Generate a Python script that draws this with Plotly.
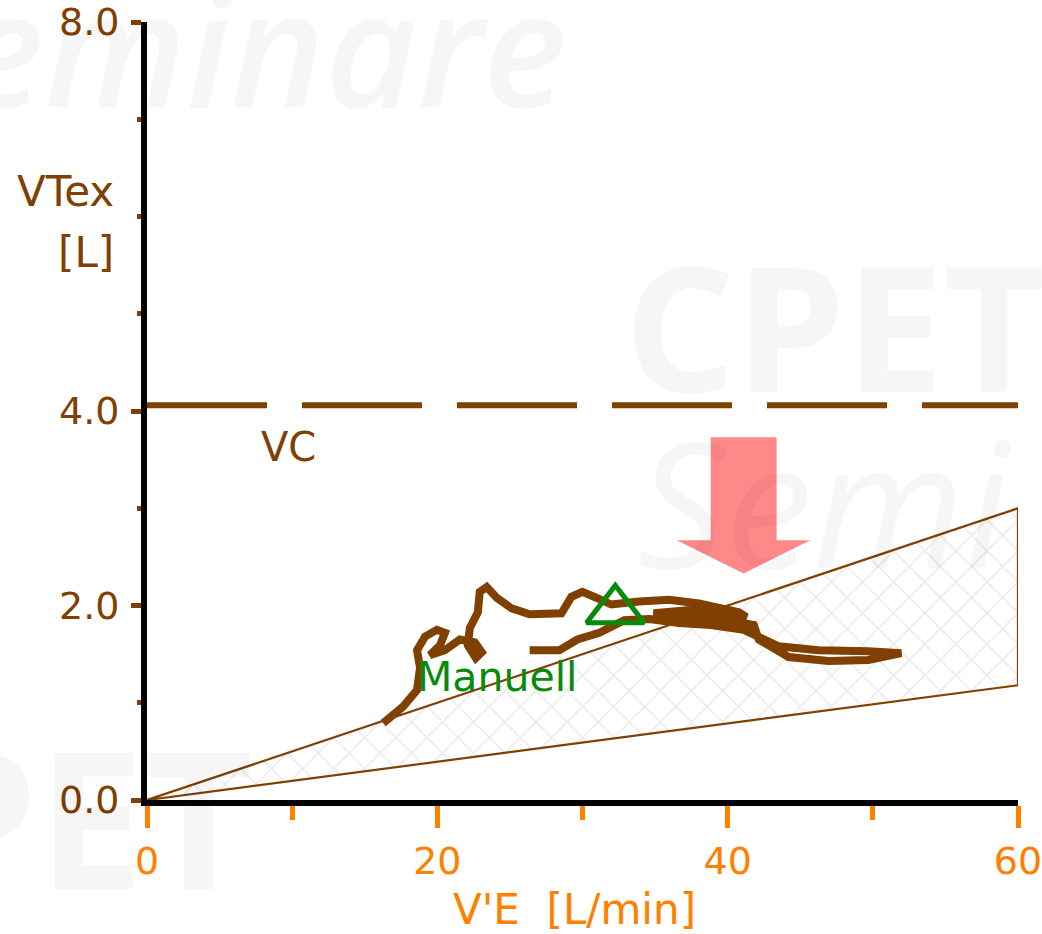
import plotly.graph_objects as go

# ---------------- data ----------------
ve_trace = [16.27, 17.64, 18.60, 18.81, 18.60, 19.15, 19.97, 20.52, 20.18, 19.49,
            20.52, 21.55, 22.58, 23.06, 22.65, 22.10, 22.24, 22.79, 22.92, 23.40,
            24.09, 25.12, 26.36, 28.55, 29.24, 29.99, 30.95, 31.98, 33.90, 35.96,
            38.02, 40.77, 41.30, 39.50, 37.20, 34.90, 36.80, 39.60, 41.80,
            42.14, 44.20, 46.95, 49.69, 51.96, 49.69, 46.26, 43.51,
            41.11, 38.85, 36.65, 34.59, 32.88, 31.16, 29.65, 28.41, 26.36]
vt_trace = [0.79, 0.96, 1.13, 1.36, 1.54, 1.68, 1.75, 1.72, 1.59, 1.49,
            1.54, 1.65, 1.62, 1.52, 1.46, 1.59, 1.77, 1.93, 2.14, 2.19,
            2.08, 1.97, 1.91, 1.92, 2.09, 2.14, 2.08, 2.01, 2.04, 2.06,
            2.02, 1.93, 1.88, 1.92, 1.95, 1.92, 1.87, 1.86, 1.80,
            1.65, 1.47, 1.43, 1.44, 1.51, 1.53, 1.54, 1.58,
            1.75, 1.80, 1.82, 1.86, 1.85, 1.72, 1.65, 1.54, 1.54]

vc_value = 4.06                      # vital capacity line [L]
band_ve = [0, 60, 60, 0]             # breathing-frequency band (VT = VE/BF)
band_vt = [0, 3.0, 1.18, 0]

marker_ve = [32.26]
marker_vt = [1.95]
marker_label = "Manuell"
label_ve = 24.1
label_vt = 1.26

x_ticks = [0, 20, 40, 60]
x_ticklabels = ["0", "20", "40", "60"]
x_minor = [10, 30, 50]
y_ticks = [0, 2, 4, 8]
y_ticklabels = ["0.0", "2.0", "4.0", "8.0"]
y_minor = [1, 3, 5, 6, 7]

# arrow annotation geometry (data units)
arrow_tip = (41.1, 2.33)
arrow_shaft_half = 2.27
arrow_head_half = 4.6
arrow_head_base = 2.67
arrow_top = 3.73

BROWN = "#7f4000"
ORANGE = "#ff8000"
GREEN = "#0a8a0a"
FONT = "DejaVu Sans"

fig = go.Figure()

# hatched band
fig.add_trace(go.Scatter(
    x=band_ve, y=band_vt, mode="lines", fill="toself",
    line=dict(color=BROWN, width=2.2),
    fillcolor="rgba(255,255,255,0)",
    fillpattern=dict(shape="x", size=22, fgcolor="#d6d9d6", bgcolor="white", solidity=0.15),
    hoverinfo="skip", showlegend=False))

# VC dashed line
fig.add_trace(go.Scatter(
    x=[0, 60.5], y=[vc_value, vc_value], mode="lines",
    line=dict(color=BROWN, width=6, dash="120px,35px"),
    hoverinfo="skip", showlegend=False))

# breathing trace
fig.add_trace(go.Scatter(
    x=ve_trace, y=vt_trace, mode="lines",
    line=dict(color=BROWN, width=8),
    hoverinfo="skip", showlegend=False))

# marker
fig.add_trace(go.Scatter(
    x=marker_ve, y=marker_vt, mode="markers",
    marker=dict(symbol="triangle-up-open", size=50, color=GREEN, line=dict(width=5, color=GREEN)),
    hoverinfo="skip", showlegend=False))

# arrow
tx, ty = arrow_tip
ax_ = [tx - arrow_shaft_half, tx + arrow_shaft_half, tx + arrow_shaft_half, tx + arrow_head_half,
       tx, tx - arrow_head_half, tx - arrow_shaft_half, tx - arrow_shaft_half]
ay_ = [arrow_top, arrow_top, arrow_head_base, arrow_head_base, ty, arrow_head_base,
       arrow_head_base, arrow_top]
fig.add_trace(go.Scatter(
    x=ax_, y=ay_, mode="lines", fill="toself", fillcolor="rgba(255,110,110,0.82)",
    line=dict(width=0, color="rgba(0,0,0,0)"), hoverinfo="skip", showlegend=False))

annotations = [
    dict(x=label_ve, y=label_vt, xref="x", yref="y", text=marker_label, showarrow=False,
         font=dict(family=FONT, size=41, color=GREEN)),
    dict(x=9.75, y=3.63, xref="x", yref="y", text="VC", showarrow=False,
         font=dict(family=FONT, size=40, color=BROWN)),
    dict(x=-0.036, y=0.782, xref="paper", yref="paper", text="VTex", showarrow=False,
         xanchor="right", yanchor="middle", font=dict(family=FONT, size=42, color=BROWN)),
    dict(x=-0.036, y=0.704, xref="paper", yref="paper", text="[L]", showarrow=False,
         xanchor="right", yanchor="middle", font=dict(family=FONT, size=42, color=BROWN)),
    dict(x=0.491, y=-0.141, xref="paper", yref="paper", text="V'E  [L/min]", showarrow=False,
         xanchor="center", yanchor="middle", font=dict(family=FONT, size=42, color=ORANGE)),
]
# faint watermarks
wm = "rgba(0,0,0,0.035)"
annotations += [
    dict(x=0.485, y=0.97, xref="paper", yref="paper", text="<i>Seminare</i>", showarrow=False,
         xanchor="right", yanchor="middle", font=dict(family="Open Sans", size=160, color=wm, weight=600)),
    dict(x=0.545, y=0.612, xref="paper", yref="paper", text="<b>CPET S</b>", showarrow=False,
         xanchor="left", yanchor="middle", font=dict(family="Open Sans", size=175, color=wm)),
    dict(x=0.56, y=0.385, xref="paper", yref="paper", text="<i>Semi</i>", showarrow=False,
         xanchor="left", yanchor="middle", font=dict(family="Open Sans", size=175, color=wm)),
    dict(x=0.125, y=-0.02, xref="paper", yref="paper", text="<b>CPET</b>", showarrow=False,
         xanchor="right", yanchor="middle", font=dict(family="Open Sans", size=190, color=wm)),
]

fig.update_layout(
    width=1042, height=934,
    margin=dict(l=147, r=24, t=22, b=134, autoexpand=False),
    paper_bgcolor="white", plot_bgcolor="white",
    annotations=annotations,
    xaxis=dict(range=[0, 60], showgrid=False, zeroline=False, automargin=False,
               showline=True, linecolor="black", linewidth=6,
               tickmode="array", tickvals=x_ticks, ticktext=x_ticklabels,
               ticks="outside", ticklen=22, tickwidth=5, tickcolor=ORANGE,
               ticklabeloverflow="allow",
               tickfont=dict(family=FONT, size=38, color=ORANGE),
               minor=dict(tickmode="array", tickvals=x_minor, ticks="outside",
                          ticklen=14, tickwidth=5, tickcolor=ORANGE)),
    yaxis=dict(range=[0, 8], showgrid=False, zeroline=False, automargin=False,
               showline=True, linecolor="black", linewidth=6,
               tickmode="array", tickvals=y_ticks, ticktext=y_ticklabels,
               ticks="outside", ticklen=10, tickwidth=5, tickcolor=BROWN,
               ticklabelstandoff=4, ticklabeloverflow="allow",
               tickfont=dict(family=FONT, size=38, color=BROWN),
               minor=dict(tickmode="array", tickvals=y_minor, ticks="outside",
                          ticklen=4, tickwidth=5, tickcolor=BROWN)),
)

fig.write_html("out.html", config={"displayModeBar": False},
               post_script="document.body.style.margin='0px';")
